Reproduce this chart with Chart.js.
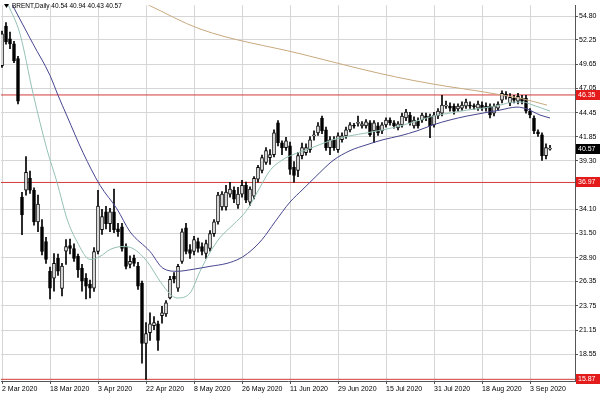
<!DOCTYPE html>
<html>
<head>
<meta charset="utf-8">
<script src="https://cdn.jsdelivr.net/npm/chart.js@4.4.1/dist/chart.umd.min.js"></script>
<style>
  html, body { margin: 0; padding: 0; background: #fff; }
  canvas { display: block; }
</style>
</head>
<body>
<canvas id="brentChart" width="600" height="400"></canvas>
<script>
// BRENT, Daily – 2 Mar 2020 .. 10 Sep 2020 (one bar per trading day)
const dateLabels = ['2 Mar 2020', '18 Mar 2020', '3 Apr 2020', '22 Apr 2020', '8 May 2020', '26 May 2020',
    '11 Jun 2020', '29 Jun 2020', '15 Jul 2020', '31 Jul 2020', '18 Aug 2020', '3 Sep 2020'];
const barsPerLabel = 12;

const priceTicks = [54.80, 52.25, 49.65, 47.05, 44.45, 41.85, 39.30, 34.10, 31.50, 28.90, 26.35, 23.75, 21.15, 18.55];

const opens = [
    49.50, 53.74, 52.36, 51.83, 50.24, 35.40, 36.14, 37.42, 36.14, 32.75,
    32.22, 30.63, 27.45, 26.71, 28.83, 25.60, 29.60, 30.20, 29.89, 29.04,
    27.80, 26.71, 26.07, 25.65, 29.57, 31.90, 33.81, 32.54, 33.81, 32.00,
    32.22, 30.10, 28.19, 28.83, 27.98, 26.18, 19.71, 20.88, 21.62, 21.83,
    22.70, 22.89, 24.59, 26.92, 25.65, 28.51, 32.12, 29.78, 29.57, 30.63,
    30.10, 29.36, 29.89, 31.48, 32.75, 34.34, 34.34, 35.72, 36.14, 34.55,
    35.72, 36.67, 34.87, 35.50, 37.31, 38.26, 39.11, 39.64, 39.96, 43.35,
    41.23, 40.70, 40.91, 38.60, 38.26, 39.85, 40.17, 40.49, 41.97, 42.29,
    43.88, 42.61, 40.70, 41.55, 40.49, 41.55, 41.97, 42.61, 43.05, 43.30,
    43.03, 43.03, 43.35, 42.50, 43.03, 42.50, 43.14, 43.67, 43.35, 42.82,
    43.14, 43.88, 44.20, 43.03, 43.56, 43.67, 44.09, 44.09, 43.14, 44.09,
    44.41, 45.15, 45.15, 45.15, 44.84, 44.94, 45.15, 45.26, 45.15, 44.94,
    45.26, 45.15, 45.15, 44.41, 44.94, 45.79, 46.43, 45.50, 46.00, 45.68,
    46.00, 46.00, 44.62, 43.88, 42.40, 42.08, 39.85, 40.54
];
const highs = [
    53.20, 54.10, 53.10, 52.10, 50.50, 35.90, 39.75, 38.20, 36.40, 35.61,
    33.00, 31.10, 27.90, 29.36, 29.30, 28.30, 30.84, 30.90, 30.40, 29.30,
    28.20, 27.20, 26.50, 30.00, 36.14, 34.10, 34.40, 34.20, 36.25, 32.60,
    32.60, 30.40, 29.10, 29.20, 28.40, 26.40, 21.94, 23.00, 22.60, 22.10,
    23.70, 24.30, 26.90, 27.30, 28.20, 32.00, 32.60, 30.30, 31.20, 31.00,
    30.50, 30.80, 31.80, 33.00, 35.90, 36.00, 36.67, 36.99, 36.50, 36.46,
    37.20, 37.00, 36.50, 37.60, 38.80, 39.90, 40.70, 40.49, 42.60, 43.60,
    41.44, 41.80, 41.30, 39.20, 40.20, 41.20, 41.10, 41.90, 42.50, 43.40,
    44.09, 42.90, 41.90, 41.90, 42.30, 42.30, 42.90, 43.40, 43.30, 44.09,
    43.50, 43.70, 43.60, 43.60, 43.40, 43.40, 43.90, 43.90, 43.60, 43.50,
    44.40, 44.80, 44.50, 44.00, 43.90, 44.40, 44.40, 44.30, 44.50, 44.90,
    46.32, 45.70, 45.50, 45.40, 45.40, 45.60, 45.90, 45.60, 45.40, 45.70,
    45.60, 45.50, 45.40, 45.40, 45.60, 46.80, 46.70, 46.50, 46.30, 46.53,
    46.30, 46.30, 44.90, 44.10, 42.60, 42.30, 41.10, 40.94
];
const lows = [
    49.30, 51.80, 51.30, 49.80, 45.40, 31.37, 35.60, 35.80, 32.40, 31.69,
    29.20, 28.30, 24.48, 25.33, 27.00, 24.80, 28.19, 29.30, 28.50, 26.80,
    25.33, 24.48, 24.59, 25.30, 29.30, 31.40, 32.00, 31.69, 31.60, 31.20,
    29.60, 27.70, 27.80, 28.00, 25.50, 17.59, 15.87, 20.03, 21.20, 18.97,
    21.90, 22.60, 24.48, 26.20, 25.30, 28.30, 29.30, 28.83, 29.20, 29.50,
    29.20, 28.83, 29.60, 31.20, 32.50, 34.00, 34.00, 35.40, 34.80, 34.20,
    35.40, 34.80, 34.50, 35.20, 37.00, 38.00, 38.90, 38.90, 39.70, 40.90,
    39.96, 40.40, 37.84, 37.00, 37.60, 39.50, 39.90, 40.20, 41.50, 42.00,
    42.20, 40.40, 39.96, 40.40, 40.20, 41.30, 41.70, 42.40, 42.80, 43.00,
    42.80, 42.80, 41.90, 41.23, 42.00, 42.20, 42.90, 43.10, 42.80, 42.60,
    42.90, 43.60, 43.10, 42.80, 42.80, 43.40, 43.60, 41.76, 42.90, 43.80,
    44.10, 44.90, 44.60, 44.30, 44.60, 44.70, 44.90, 44.90, 44.80, 44.70,
    44.70, 44.60, 43.88, 44.10, 44.70, 45.50, 45.90, 45.20, 45.50, 45.40,
    45.40, 44.40, 43.90, 42.20, 41.90, 39.32, 39.50, 40.43
];
const closes = [
    52.89, 52.04, 51.83, 50.03, 45.68, 33.49, 38.05, 36.14, 32.75, 34.66,
    29.57, 28.72, 25.65, 28.30, 27.45, 28.00, 30.10, 29.90, 28.83, 27.60,
    26.39, 25.86, 25.65, 29.57, 34.45, 33.30, 32.54, 33.81, 31.90, 31.70,
    29.89, 27.98, 28.51, 28.30, 25.86, 19.71, 20.77, 21.83, 21.94, 20.03,
    23.00, 24.06, 26.60, 26.60, 27.98, 31.69, 29.57, 29.36, 30.84, 29.89,
    29.57, 30.42, 31.48, 32.75, 35.61, 35.72, 35.93, 36.25, 35.19, 35.72,
    36.67, 35.08, 36.25, 37.40, 38.58, 39.64, 40.38, 39.96, 42.29, 41.23,
    40.70, 41.44, 38.37, 37.73, 39.85, 40.70, 40.70, 41.55, 42.08, 43.03,
    42.50, 40.70, 41.55, 40.70, 41.97, 41.97, 42.61, 43.14, 43.00, 43.35,
    43.25, 43.46, 42.08, 43.35, 42.29, 43.14, 43.67, 43.35, 43.03, 43.25,
    44.09, 44.52, 43.35, 43.67, 43.03, 44.20, 43.88, 43.03, 44.20, 44.62,
    45.26, 45.26, 44.94, 44.62, 45.15, 45.26, 45.58, 45.15, 45.10, 45.37,
    44.94, 44.94, 44.20, 45.15, 45.37, 46.53, 46.21, 46.10, 45.79, 46.21,
    45.68, 44.62, 44.20, 42.50, 42.20, 39.85, 40.70, 40.57
];

// moving averages at sample bars
const maFastBars = [1.5, 4.5, 7.75, 11.25, 13.75, 16.25, 18.75, 22, 24.5, 27, 30, 32.75, 36.25, 39.5, 42, 43.75,
    47, 49.5, 52, 54.5, 57.75, 61.25, 64.5, 67, 70.25, 72.75, 76.25, 78.75, 82.75, 87, 91.25, 95.25, 99.5,
    103.75, 107.75, 112, 116.25, 120.25, 124.5, 127.75, 130.25, 132.75, 137];
const maFastValues = [56.07, 52.89, 46.53, 40.49, 36.99, 33.07, 30.63, 28.72, 29.04, 29.78, 30.10, 29.89, 28.51,
    26.39, 25.01, 24.59, 25.12, 27.45, 29.47, 31.06, 32.43, 34.02, 36.46, 38.26, 39.43, 39.96, 40.49, 40.91,
    41.55, 41.97, 42.29, 42.61, 43.03, 43.56, 44.09, 44.41, 44.73, 44.94, 45.26, 45.58, 45.58, 45.26, 44.62];

const maSlowBars = [2.5, 7.75, 12, 14, 16.25, 20.25, 24.5, 28.75, 32, 37, 40.25, 43.75, 47.75, 52, 56.25, 59.5,
    62, 65, 68.25, 72, 75.25, 78.75, 82.75, 87, 91.25, 95.25, 99.5, 103.75, 107.75, 112, 116.25, 120.25,
    124.5, 128.75, 131.25, 134.5, 137];
const maSlowValues = [56.07, 51.83, 48.44, 46.32, 44.09, 40.17, 36.67, 34.13, 31.69, 29.57, 27.77, 27.45, 27.66,
    27.98, 28.30, 28.83, 29.57, 30.84, 32.75, 34.87, 36.25, 37.73, 39.32, 40.38, 41.02, 41.55, 41.97, 42.50,
    43.14, 43.67, 44.09, 44.41, 44.73, 45.05, 44.84, 44.20, 43.88];

const maLongBars = [36.25, 49.5, 74.5, 94.5, 102.75, 111.25, 119.5, 123.75, 129.5, 136.25];
const maLongValues = [56.07, 53.42, 50.77, 48.65, 47.91, 47.27, 46.74, 46.43, 46.00, 45.26];

// horizontal levels and the last price
const levels = [46.35, 36.97, 15.87];
const lastPrice = 40.57;
const headerText = 'BRENT,Daily 40.54 40.94 40.43 40.57';

const xMin = -0.25;
const xMax = 143.25;

document.addEventListener('DOMContentLoaded', () => {
    drawChart();
});

function toPoints(xs, ys) {
    return xs.map((x, i) => ({ x: x, y: ys[i] }));
}

function drawChart() {
    const wicks = lows.map((l, i) => ({ x: i, y: [l, highs[i]] }));
    const bodies = opens.map((o, i) => ({ x: i, y: [o, closes[i]] }));
    const isUp = ctx => {
        const i = ctx.dataIndex;
        return closes[i] >= opens[i];
    };

    const levelSets = levels.map(v => ({
        type: 'line',
        data: [{ x: xMin, y: v }, { x: xMax, y: v }],
        borderColor: '#d43a3a',
        borderWidth: 1,
        pointRadius: 0,
        order: 5
    }));

    // labels on the price axis + chart header
    const overlay = {
        id: 'overlay',
        afterDraw(chart) {
            const c = chart.ctx;
            const y = chart.scales.y;
            const area = chart.chartArea;
            c.save();
            c.font = '7px "Liberation Sans", Arial, sans-serif';
            c.textBaseline = 'middle';
            c.textAlign = 'left';
            const tag = (v, bg) => {
                const py = Math.round(y.getPixelForValue(v));
                c.fillStyle = bg;
                c.fillRect(area.right + 1, py - 5, 24, 10);
                c.fillStyle = '#fff';
                c.fillText(v.toFixed(2), area.right + 3, py + 0.5);
            };
            levels.forEach(v => tag(v, '#e31b1b'));
            tag(lastPrice, '#000');

            // header
            c.fillStyle = '#000';
            c.beginPath();
            c.moveTo(4, 4);
            c.lineTo(9, 4);
            c.lineTo(6.5, 8);
            c.closePath();
            c.fill();
            c.font = '6.5px "Liberation Sans", Arial, sans-serif';
            c.fillText(headerText, 12, 6.5);
            c.restore();
        }
    };

    new Chart(document.getElementById('brentChart'), {
        data: {
            datasets: [
                {
                    type: 'bar',
                    data: wicks,
                    backgroundColor: '#000',
                    borderWidth: 0,
                    barThickness: 1,
                    grouped: false,
                    order: 3
                },
                {
                    type: 'bar',
                    data: bodies,
                    backgroundColor: ctx => isUp(ctx) ? '#fff' : '#000',
                    borderColor: '#000',
                    borderWidth: 1,
                    borderSkipped: false,
                    barThickness: 3,
                    minBarLength: 1,
                    grouped: false,
                    order: 2
                },
                {
                    type: 'line',
                    data: toPoints(maLongBars, maLongValues),
                    borderColor: '#c9a97f',
                    borderWidth: 1,
                    pointRadius: 0,
                    cubicInterpolationMode: 'monotone',
                    order: 1
                },
                {
                    type: 'line',
                    data: toPoints(maSlowBars, maSlowValues),
                    borderColor: '#46468f',
                    borderWidth: 1,
                    pointRadius: 0,
                    cubicInterpolationMode: 'monotone',
                    order: 1
                },
                {
                    type: 'line',
                    data: toPoints(maFastBars, maFastValues),
                    borderColor: '#94c0b6',
                    borderWidth: 1,
                    pointRadius: 0,
                    cubicInterpolationMode: 'monotone',
                    order: 1
                },
                ...levelSets
            ]
        },
        options: {
            responsive: false,
            animation: false,
            devicePixelRatio: 1,
            layout: { padding: { left: 1, top: 1, right: 0, bottom: 0 } },
            plugins: {
                legend: { display: false },
                tooltip: { enabled: false }
            },
            scales: {
                x: {
                    type: 'linear',
                    offset: false,
                    min: xMin,
                    max: xMax,
                    afterBuildTicks: scale => {
                        scale.ticks = dateLabels.map((_, k) => ({ value: k * barsPerLabel }));
                    },
                    afterFit: scale => { scale.height = 19; },
                    ticks: {
                        autoSkip: false,
                        maxRotation: 0,
                        align: 'start',
                        padding: 1,
                        color: '#000',
                        font: { family: '"Liberation Sans", Arial, sans-serif', size: 7 },
                        callback: v => dateLabels[v / barsPerLabel]
                    },
                    grid: {
                        offset: false,
                        color: '#d6d6d6',
                        borderDash: [2, 2],
                        tickLength: 3,
                        tickColor: '#555',
                        tickBorderDash: []
                    },
                    border: { display: true, color: '#555' }
                },
                y: {
                    type: 'linear',
                    position: 'right',
                    min: 15.69,
                    max: 55.97,
                    afterBuildTicks: scale => {
                        scale.ticks = priceTicks.map(v => ({ value: v }));
                    },
                    afterFit: scale => { scale.width = 25; },
                    ticks: {
                        autoSkip: false,
                        padding: 1,
                        color: '#000',
                        font: { family: '"Liberation Sans", Arial, sans-serif', size: 7 },
                        callback: v => v.toFixed(2)
                    },
                    grid: {
                        color: '#d6d6d6',
                        borderDash: [2, 2],
                        tickLength: 3,
                        tickColor: '#555',
                        tickBorderDash: []
                    },
                    border: { display: true, color: '#555' }
                }
            }
        },
        plugins: [overlay]
    });
}
</script>
</body>
</html>
